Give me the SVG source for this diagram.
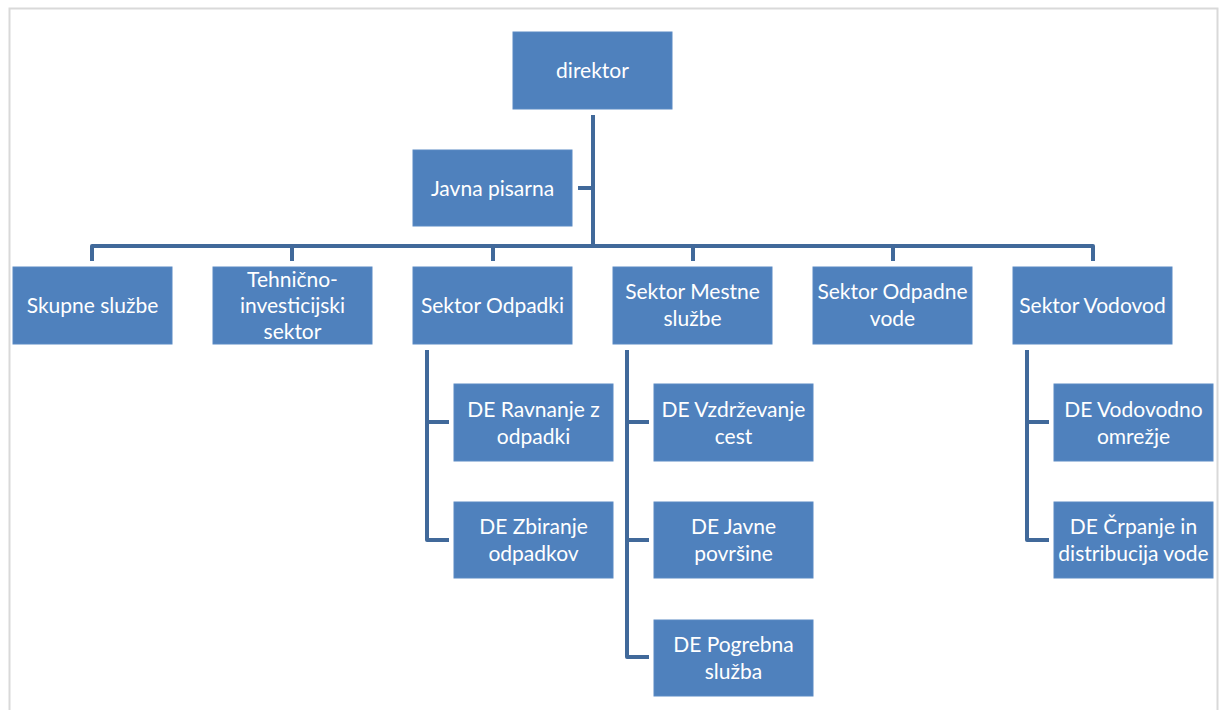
<svg xmlns="http://www.w3.org/2000/svg" width="1219" height="710" viewBox="0 0 1219 710">
<style>
.box{fill:#4F81BD;stroke:#5B8AC4;stroke-width:1}
.t{fill:#FFFFFF;font-family:Lato,"Liberation Sans",sans-serif;font-size:21px;text-anchor:middle}
.ln{fill:none;stroke:#41699A;stroke-width:4;stroke-linejoin:round;stroke-linecap:butt}
</style>
<rect x="0" y="0" width="1219" height="710" fill="#FFFFFF"/>
<path d="M9.5,720 V8.5 H1217.5 V720" fill="none" stroke="#D9D9D9" stroke-width="2"/>
<g id="connectors">
<path class="ln" d="M593,115 V246"/>
<path class="ln" d="M578,188 H593"/>
<path class="ln" d="M92,261 V246 H1093 V261"/>
<path class="ln" d="M292,246 V261"/>
<path class="ln" d="M493,246 V261"/>
<path class="ln" d="M693,246 V261"/>
<path class="ln" d="M893,246 V261"/>
<path class="ln" d="M427,350 V540 H449"/>
<path class="ln" d="M427,422 H449"/>
<path class="ln" d="M627,350 V657 H649"/>
<path class="ln" d="M627,422 H649"/>
<path class="ln" d="M627,540 H649"/>
<path class="ln" d="M1027,350 V540 H1049"/>
<path class="ln" d="M1027,422 H1049"/>
</g>
<g id="n-direktor"><rect class="box" x="513" y="32" width="159" height="77"/><text class="t" x="592.5" y="78">direktor</text></g>
<g id="n-javna"><rect class="box" x="413" y="150" width="159" height="76"/><text class="t" x="492.5" y="196">Javna pisarna</text></g>
<g id="n-skupne"><rect class="box" x="13" y="267" width="159" height="77"/><text class="t" x="92.5" y="313">Skupne službe</text></g>
<g id="n-tehnicno"><rect class="box" x="213" y="267" width="159" height="77"/><text class="t" x="292.5" y="287">Tehnično-</text><text class="t" x="292.5" y="313">investicijski</text><text class="t" x="292.5" y="339">sektor</text></g>
<g id="n-odpadki"><rect class="box" x="413" y="267" width="159" height="77"/><text class="t" x="492.5" y="313">Sektor Odpadki</text></g>
<g id="n-mestne"><rect class="box" x="613" y="267" width="159" height="77"/><text class="t" x="692.5" y="299">Sektor Mestne</text><text class="t" x="692.5" y="326">službe</text></g>
<g id="n-odpadne"><rect class="box" x="813" y="267" width="159" height="77"/><text class="t" x="892.5" y="299">Sektor Odpadne</text><text class="t" x="892.5" y="326">vode</text></g>
<g id="n-vodovod"><rect class="box" x="1013" y="267" width="159" height="77"/><text class="t" x="1092.5" y="313">Sektor Vodovod</text></g>
<g id="n-ravnanje"><rect class="box" x="454" y="384" width="159" height="77"/><text class="t" x="533.5" y="417">DE Ravnanje z</text><text class="t" x="533.5" y="444">odpadki</text></g>
<g id="n-zbiranje"><rect class="box" x="454" y="502" width="159" height="76"/><text class="t" x="533.5" y="534">DE Zbiranje</text><text class="t" x="533.5" y="561">odpadkov</text></g>
<g id="n-vzdrzevanje"><rect class="box" x="654" y="384" width="159" height="77"/><text class="t" x="733.5" y="417">DE Vzdrževanje</text><text class="t" x="733.5" y="444">cest</text></g>
<g id="n-javne"><rect class="box" x="654" y="502" width="159" height="76"/><text class="t" x="733.5" y="534">DE Javne</text><text class="t" x="733.5" y="561">površine</text></g>
<g id="n-pogrebna"><rect class="box" x="654" y="620" width="159" height="76"/><text class="t" x="733.5" y="652">DE Pogrebna</text><text class="t" x="733.5" y="679">služba</text></g>
<g id="n-vodovodno"><rect class="box" x="1054" y="384" width="159" height="77"/><text class="t" x="1133.5" y="417">DE Vodovodno</text><text class="t" x="1133.5" y="444">omrežje</text></g>
<g id="n-crpanje"><rect class="box" x="1054" y="502" width="159" height="76"/><text class="t" x="1133.5" y="534">DE Črpanje in</text><text class="t" x="1133.5" y="561">distribucija vode</text></g>
</svg>
